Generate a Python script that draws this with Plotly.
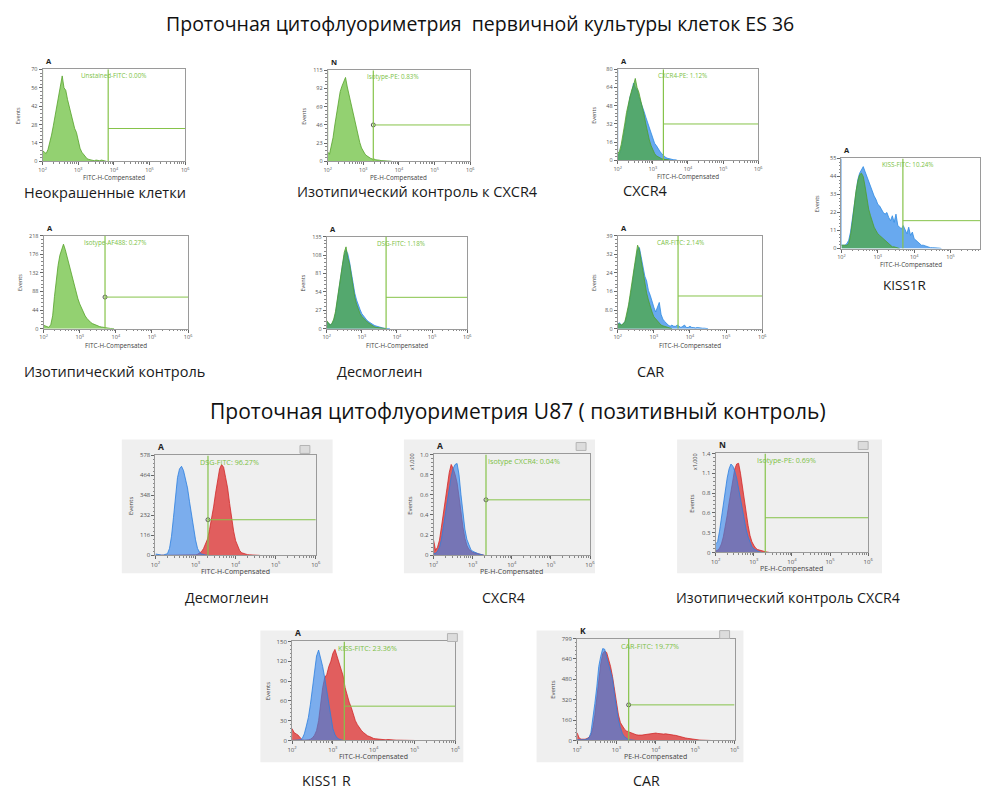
import math
import plotly.graph_objects as go

W, H = 985, 791

# ---------------- data ----------------
# log10 fluorescence positions of histogram points (10^2 ... 10^5.4)
GRID = [2.00, 2.05, 2.10, 2.15, 2.20, 2.25, 2.30, 2.35, 2.40, 2.45,
        2.50, 2.55, 2.60, 2.65, 2.70, 2.75, 2.80, 2.85, 2.90, 2.95,
        3.00, 3.05, 3.10, 3.15, 3.20, 3.25, 3.30, 3.35, 3.40, 3.45,
        3.50, 3.55, 3.60, 3.65, 3.70, 3.75, 3.80, 3.85, 3.90, 3.95,
        4.00, 4.05, 4.10, 4.15, 4.20, 4.25, 4.30, 4.35, 4.40, 4.45,
        4.50, 4.55, 4.60, 4.65, 4.70, 4.75, 4.80, 4.85, 4.90, 4.95,
        5.00, 5.05, 5.10, 5.15, 5.20, 5.25, 5.30, 5.35, 5.40]

TITLE_1 = "Проточная цитофлуориметрия  первичной культуры клеток ES 36"
TITLE_2 = "Проточная цитофлуориметрия U87 ( позитивный контроль)"

CAPTIONS = ["Неокрашенные клетки", "Изотипический контроль к CXCR4", "CXCR4", "KISS1R",
            "Изотипический контроль", "Десмоглеин", "CAR",
            "Десмоглеин", "CXCR4", "Изотипический контроль CXCR4", "KISS1 R", "CAR"]
PANEL_LETTERS = ["A", "N", "A", "A", "A", "A", "A", "A", "A", "N", "A", "K"]
X_TITLES = ["FITC-H-Compensated", "PE-H-Compensated", "FITC-H-Compensated", "FITC-H-Compensated",
            "FITC-H-Compensated", "FITC-H-Compensated", "FITC-H-Compensated",
            "FITC-H-Compensated", "PE-H-Compensated", "PE-H-Compensated",
            "FITC-H-Compensated", "PE-H-Compensated"]
GATE_LABELS = ["Unstained-FITC: 0.00%", "Isotype-PE: 0.83%", "CXCR4-PE: 1.12%", "KISS-FITC: 10.24%",
               "Isotype-AF488: 0.27%", "DSG-FITC: 1.18%", "CAR-FITC: 2.14%",
               "DSG-FITC: 96.27%", "Isotype CXCR4: 0.04%", "Isotype-PE: 0.69%",
               "KISS-FITC: 23.36%", "CAR-FITC: 19.77%"]
GATE_X = [3.84, 3.28, 3.30, 3.69, 3.70, 3.69, 3.67, 3.31, 3.34, 3.30, 3.28, 3.31]
GATE_Y = [25, 46, 32, 17, 74, 46, 13.7, 206, 0.55, 0.49, 52, 279]
Y_MAX = [70, 115, 80, 55, 218, 135, 39, 578, 1.0, 1.4, 150, 799]
Y_TICK_TEXT = [
    ["0", "14", "28", "42", "56", "70"],
    ["0", "23", "46", "69", "92", "115"],
    ["0", "16", "32", "48", "64", "80"],
    ["0", "11", "22", "33", "44", "55"],
    ["0", "44", "88", "132", "176", "218"],
    ["0", "27", "54", "81", "108", "135"],
    ["0", "8.0", "16", "24", "32", "39"],
    ["0", "116", "232", "348", "464", "578"],
    ["0", "0.2", "0.4", "0.6", "0.8", "1.0"],
    ["0", "0.3", "0.6", "0.8", "1.1", "1.4"],
    ["0", "30", "60", "90", "120", "150"],
    ["0", "160", "320", "480", "640", "799"],
]
X_TICK_TEXT = ["10<sup>2</sup>", "10<sup>3</sup>", "10<sup>4</sup>", "10<sup>5</sup>", "10<sup>6</sup>"]
X_TICK_VALS = [2, 3, 4, 5, 6]

P1_GREEN = [8, 7, 6, 9, 14, 20, 27, 35, 42, 50, 58, 65, 56, 54, 47, 41, 37, 29, 25, 22,
            15, 10, 7, 5, 3, 2, 1.5, 1, 0.5, 0.5, 1, 0.5, 0.5, 1, 0.5, 0.3, 0]
P2_GREEN = [12, 9, 18, 30, 46, 62, 78, 88, 95, 100, 106, 94, 84, 76, 64, 52, 42, 32, 24, 17,
            12, 9, 7, 5, 4, 3, 3, 2, 2, 1.5, 1, 1, 1, 0.5, 0.5, 0.3, 0]
P3_BLUE = [4, 6, 10, 18, 28, 38, 48, 56, 60, 68, 64, 62, 56, 52, 48, 43, 38, 33, 28, 23,
           19, 15, 13, 10, 8, 6, 4, 3, 2, 1.5, 1, 1, 0.5, 0.5, 0]
P3_GREEN = [6, 8, 14, 22, 32, 42, 50, 56, 62, 66, 72, 64, 60, 54, 46, 40, 32, 24, 18, 13,
            9, 6, 4, 3, 2, 1.5, 1, 1, 0.5, 0.5, 0]
P4_BLUE = [2, 2, 2, 3, 5, 10, 18, 27, 36, 42, 46, 48, 50, 47, 44, 40, 38, 35, 32, 30,
           27, 26, 24, 22, 21, 22, 19, 17, 20, 16, 21, 14, 13, 12, 14, 11, 9, 13, 8, 10,
           6, 5, 4, 3, 2, 2, 1.5, 1, 1, 0.5, 0.5, 0.3, 0.3, 0.3, 0.2, 0]
P4_GREEN = [2, 2, 2, 2, 3, 8, 16, 26, 35, 41, 45, 46, 44, 38, 30, 24, 20, 16, 13, 11,
            9, 8, 7, 6, 5, 4, 3, 2, 1, 1, 0.5, 0.5, 0]
P5_GREEN = [8, 6, 4, 3, 10, 30, 75, 115, 148, 172, 185, 198, 185, 168, 152, 138, 118, 100, 85, 70,
            58, 48, 38, 30, 24, 19, 15, 12, 10, 8, 6, 5, 4, 3, 2, 1.5, 1, 0.5, 0.5, 0]
P6_BLUE = [10, 8, 6, 7, 12, 22, 38, 56, 76, 94, 108, 115, 110, 98, 82, 66, 52, 42, 34, 28,
           22, 18, 15, 12, 10, 8, 6, 5, 4, 3, 2, 1.5, 1, 0.5, 0.5, 0.3, 0]
P6_GREEN = [12, 8, 5, 8, 14, 25, 42, 62, 82, 100, 112, 120, 104, 95, 78, 60, 46, 36, 28, 22,
            18, 15, 12, 10, 8, 6, 4, 3, 2, 1.5, 1, 0.5, 0.5, 0.3, 0]
P7_BLUE = [2, 2.5, 1.5, 2, 3, 5, 9, 13, 18, 24, 29, 33, 34, 30, 27, 22, 20, 16, 14, 11,
           9, 7, 9, 11, 6, 4, 3, 2, 1.5, 1, 1.5, 1, 1, 1.5, 1, 0.5, 1, 1.5, 0.5, 0.5,
           1, 0.5, 0.5, 0.3, 0.5, 0.3, 0.3, 0.2, 0.2, 0.2, 0]
P7_GREEN = [2, 2, 1.5, 2, 3, 6, 10, 15, 20, 25, 30, 35, 33, 28, 24, 19, 15, 12, 9, 7,
            5, 4, 3, 2, 1.5, 1.2, 1, 0.8, 0.5, 0.3, 0]
P8_BLUE = [8, 5, 3, 2, 2, 4, 10, 40, 110, 220, 360, 450, 500, 515, 490, 440, 390, 310, 230, 160,
           90, 40, 18, 8, 3, 2, 1, 0]
P8_RED = [0, 0, 0, 0, 0, 0, 0, 0, 0, 0, 0, 0, 0, 0, 0, 0, 0, 0, 0, 0,
          3, 6, 12, 22, 40, 65, 95, 150, 210, 280, 360, 440, 500, 525, 510, 450, 390, 300, 210, 140,
          85, 50, 28, 15, 10, 6, 4, 3, 2, 1.5, 1, 0.5, 0]
P9_RED = [0.15, 0.05, 0.08, 0.15, 0.28, 0.42, 0.58, 0.72, 0.82, 0.9, 0.86, 0.8, 0.72, 0.58, 0.42, 0.28,
          0.17, 0.1, 0.06, 0.04, 0.03, 0.025, 0.02, 0.015, 0.01, 0.005, 0]
P9_BLUE = [0.02, 0.02, 0.04, 0.08, 0.16, 0.28, 0.42, 0.56, 0.68, 0.78, 0.86, 0.9, 0.91, 0.8, 0.6, 0.4,
           0.26, 0.16, 0.1, 0.06, 0.04, 0.03, 0.02, 0.015, 0.01, 0.005, 0]
P10_BLUE = [0.12, 0.15, 0.3, 0.5, 0.72, 0.9, 1.05, 1.18, 1.25, 1.22, 1.15, 1.05, 0.9, 0.78, 0.65, 0.48,
            0.32, 0.22, 0.14, 0.08, 0.05, 0.03, 0.02, 0.01, 0]
P10_RED = [0.02, 0.03, 0.06, 0.12, 0.22, 0.36, 0.52, 0.7, 0.88, 1.05, 1.18, 1.25, 1.26, 1.12, 0.92, 0.72,
           0.55, 0.38, 0.24, 0.15, 0.1, 0.06, 0.04, 0.03, 0.02, 0.015, 0.01, 0.005, 0]
P11_BLUE = [0, 0, 0, 0, 1, 3, 10, 22, 35, 55, 80, 110, 128, 137, 125, 112, 95, 75, 55, 32,
            18, 9, 4, 2, 1, 0]
P11_RED = [18, 12, 10, 8, 4, 1, 0.5, 0.5, 1, 2, 4, 8, 15, 30, 55, 80, 95, 100, 112, 120,
           132, 138, 128, 118, 110, 98, 80, 68, 58, 50, 40, 30, 24, 19, 15, 12, 9, 7, 6, 4,
           3, 2.5, 2, 1.5, 1.5, 1, 1, 1.5, 1, 1, 0.5, 0.5, 0.5, 0.3, 0.3, 0.3, 0.2, 0.2, 0.2, 0.1, 0]
P12_BLUE = [5, 4, 3, 3, 5, 12, 20, 60, 160, 290, 420, 580, 660, 720, 715, 650, 600, 540, 480, 360,
            250, 160, 100, 55, 30, 15, 8, 5, 3, 1, 0]
P12_RED = [60, 20, 10, 8, 10, 15, 25, 45, 100, 200, 340, 480, 600, 680, 700, 690, 640, 580, 500, 400,
           290, 200, 140, 110, 90, 75, 68, 62, 55, 50, 45, 42, 40, 42, 45, 48, 50, 52, 55, 56,
           58, 55, 52, 55, 50, 52, 48, 50, 45, 42, 40, 35, 32, 28, 24, 20, 17, 14, 11, 9,
           7, 5, 4, 3, 2, 1.5, 1, 0.5, 0]

# ---------------- styling / layout ----------------
COLORS = {
    "green_solo": dict(line="#55a12a", fill="rgba(128,201,88,0.85)"),
    "green": dict(line="#4f9e2c", fill="rgba(76,168,60,0.72)"),
    "blue_top": dict(line="#2e8ae2", fill="rgba(78,154,236,0.85)"),
    "red": dict(line="#d22828", fill="rgba(220,52,52,0.78)"),
    "blue": dict(line="#2b7fe0", fill="rgba(52,132,236,0.62)"),
}

# (series, colour key, off-scale first-bin spike?)
SERIES = [
    [(P1_GREEN, "green_solo", True)],
    [(P2_GREEN, "green_solo", True)],
    [(P3_BLUE, "blue_top", True), (P3_GREEN, "green", False)],
    [(P4_BLUE, "blue_top", True), (P4_GREEN, "green", False)],
    [(P5_GREEN, "green_solo", False)],
    [(P6_BLUE, "blue_top", False), (P6_GREEN, "green", False)],
    [(P7_BLUE, "blue_top", False), (P7_GREEN, "green", False)],
    [(P8_RED, "red", False), (P8_BLUE, "blue", False)],
    [(P9_RED, "red", False), (P9_BLUE, "blue", False)],
    [(P10_RED, "red", False), (P10_BLUE, "blue", False)],
    [(P11_RED, "red", False), (P11_BLUE, "blue", False)],
    [(P12_RED, "red", False), (P12_BLUE, "blue", False)],
]

# plot-area boxes in pixels: left, right, top, bottom
BOXES = [(38, 182, 66, 159), (326, 470, 67, 159), (619, 761, 66, 158), (845, 985, 156, 247),
         (39, 185, 234, 328), (325, 467, 235, 328), (619, 765, 234, 328),
         (152, 314, 456, 557), (433, 591, 455, 557), (718, 872, 454, 554),
         (290, 455, 644, 744), (578, 737, 641, 744)]
X_MAX = [6, 6, 6, 5.81, 6, 6, 6, 6, 6, 6, 6, 6]
LABEL_X = [3.03, 3.06, 3.10, 3.06, 3.07, 3.38, 3.04, 3.06, 3.34, 3.04, 3.07, 3.06]
CIRCLE = [False, True, False, False, True, False, False, True, True, False, False, True]
CAPTION_POS = [(17, 190, 14.5), (293, 189, 14.5), (622, 188, 14.5), (885, 284, 13.5),
               (17, 371, 14.5), (333, 371, 14.5), (636, 371, 14.5),
               (180, 600, 14.2), (480, 600, 14.2), (676, 600, 14.2), (298, 784, 14.2), (632, 784, 14.2)]
GREY_BOXES = [(118, 331, 440, 575), (403, 596, 440, 575), (679, 886, 440, 575),
              (258, 463, 633, 766), (537, 746, 633, 766)]
ICONS = [(303, 450), (582, 447), (867, 446), (452, 640), (727, 637)]

FONT = "Open Sans"
GATE_COLOR = "#86c34a"
AXIS_COLOR = "#9a9a9a"


def px(x):
    return x / W


def py(y):
    return 1 - y / H


fig = go.Figure()
shapes = []
annotations = []

for gx0, gx1, gy0, gy1 in GREY_BOXES:
    shapes.append(dict(type="rect", xref="paper", yref="paper", x0=px(gx0), x1=px(gx1),
                       y0=py(gy1), y1=py(gy0), fillcolor="#efefef", line=dict(width=0),
                       layer="below"))
for ix, iy in ICONS:
    shapes.append(dict(type="rect", xref="paper", yref="paper", x0=px(ix - 5), x1=px(ix + 5),
                       y0=py(iy + 4), y1=py(iy - 4), fillcolor="#dcdcdc",
                       line=dict(color="#b4b4b4", width=1), layer="above"))

x_minor = [n + math.log10(k) for n in range(2, 6) for k in range(2, 10)]

for i in range(1, 13):
    idx = i - 1
    l, r, t, b = BOXES[idx]
    ymax = Y_MAX[idx]
    xmax = X_MAX[idx]
    small = i <= 7
    tick_size = 5.5 if small else 6
    sfx = "" if i == 1 else str(i)
    xref, yref = "x" + sfx, "y" + sfx

    for vals, ckey, spike in SERIES[idx]:
        xs = GRID[:len(vals)]
        ys = list(vals)
        if spike:
            xs = [GRID[0]] + xs
            ys = [ymax] + ys
        c = COLORS[ckey]
        fig.add_trace(go.Scatter(x=xs, y=ys, xaxis=xref, yaxis=yref, mode="lines",
                                 fill="tozeroy", fillcolor=c["fill"],
                                 line=dict(color=c["line"], width=0.8),
                                 hoverinfo="skip", showlegend=False))

    gx, gy = GATE_X[idx], GATE_Y[idx]
    shapes.append(dict(type="line", xref=xref, yref=yref, x0=gx, x1=gx, y0=0, y1=ymax,
                       line=dict(color=GATE_COLOR, width=1.2)))
    shapes.append(dict(type="line", xref=xref, yref=yref, x0=gx, x1=xmax, y0=gy, y1=gy,
                       line=dict(color=GATE_COLOR, width=1)))
    if CIRCLE[idx]:
        fig.add_trace(go.Scatter(x=[gx], y=[gy], xaxis=xref, yaxis=yref, mode="markers",
                                 marker=dict(symbol="circle-open", size=4, color="#555555",
                                             line=dict(width=1)),
                                 hoverinfo="skip", showlegend=False))

    yt_vals = [ymax * k / 5 for k in range(6)]
    fig.layout["xaxis" + sfx] = dict(
        domain=[px(l), px(r)], range=[2, xmax], anchor=yref, showgrid=False, zeroline=False,
        showline=True, linecolor=AXIS_COLOR, linewidth=1, mirror=True,
        ticks="outside", ticklen=3, tickcolor="#666666", tickwidth=1,
        tickvals=X_TICK_VALS, ticktext=X_TICK_TEXT,
        tickfont=dict(size=tick_size, color="#555555", family=FONT),
        minor=dict(tickvals=x_minor, ticks="outside", ticklen=1.5, tickcolor="#888888"),
        fixedrange=True)
    fig.layout["yaxis" + sfx] = dict(
        domain=[py(b), py(t)], range=[0, ymax], anchor=xref, showgrid=False, zeroline=False,
        showline=True, linecolor=AXIS_COLOR, linewidth=1, mirror=True,
        ticks="outside", ticklen=3, tickcolor="#666666", tickwidth=1,
        tickvals=yt_vals, ticktext=Y_TICK_TEXT[idx],
        tickfont=dict(size=tick_size, color="#555555", family=FONT),
        minor=dict(tickvals=[ymax * k / 25 for k in range(26)], ticks="outside",
                   ticklen=1.5, tickcolor="#888888"),
        fixedrange=True)

    # gate label
    annotations.append(dict(xref=xref, yref=yref, x=LABEL_X[idx], y=ymax, xanchor="left",
                            yanchor="top", showarrow=False,
                            text=GATE_LABELS[idx],
                            font=dict(size=6.3 if small else 7.2, color="#7cbf45", family=FONT)))
    # panel letter
    annotations.append(dict(xref="paper", yref="paper", x=px(l + 1), y=py(t - 1), xanchor="left",
                            yanchor="bottom", showarrow=False,
                            text="<b>" + PANEL_LETTERS[idx] + "</b>",
                            font=dict(size=7.5 if small else 8.5, color="#222222", family=FONT)))
    # axis titles
    annotations.append(dict(xref="paper", yref="paper", x=px((l + r) / 2), y=py(b + 10),
                            xanchor="center", yanchor="top", showarrow=False,
                            text=X_TITLES[idx],
                            font=dict(size=6.3 if small else 7, color="#444444", family=FONT)))
    annotations.append(dict(xref="paper", yref="paper", x=px(l - 24), y=py((t + b) / 2),
                            xanchor="center", yanchor="middle", showarrow=False, textangle=-90,
                            text="Events",
                            font=dict(size=5.5 if small else 6, color="#444444", family=FONT)))
    # caption
    cx, cy, cs = CAPTION_POS[idx]
    annotations.append(dict(xref="paper", yref="paper", x=px(cx), y=py(cy), xanchor="left",
                            yanchor="middle", showarrow=False, text=CAPTIONS[idx],
                            font=dict(size=cs, color="#1a1a1a", family=FONT)))

# x1,000 unit marks
for ux, uy in [(412, 462), (697, 462)]:
    annotations.append(dict(xref="paper", yref="paper", x=px(ux), y=py(uy), xanchor="center",
                            yanchor="middle", showarrow=False, textangle=-90, text="x1,000",
                            font=dict(size=5.5, color="#444444", family=FONT)))

# section titles
annotations.append(dict(xref="paper", yref="paper", x=px(480), y=py(20), xanchor="center",
                        yanchor="middle", showarrow=False, text=TITLE_1,
                        font=dict(size=19.5, color="#111111", family=FONT)))
annotations.append(dict(xref="paper", yref="paper", x=px(518), y=py(411), xanchor="center",
                        yanchor="middle", showarrow=False, text=TITLE_2,
                        font=dict(size=21, color="#111111", family=FONT)))

fig.update_layout(width=W, height=H, margin=dict(l=0, r=0, t=0, b=0),
                  paper_bgcolor="white", plot_bgcolor="white",
                  shapes=shapes, annotations=annotations, showlegend=False,
                  font=dict(family=FONT))

fig.write_html("out.html", config={"displayModeBar": False},
               post_script="document.body.style.margin='0';document.body.style.padding='0';")
